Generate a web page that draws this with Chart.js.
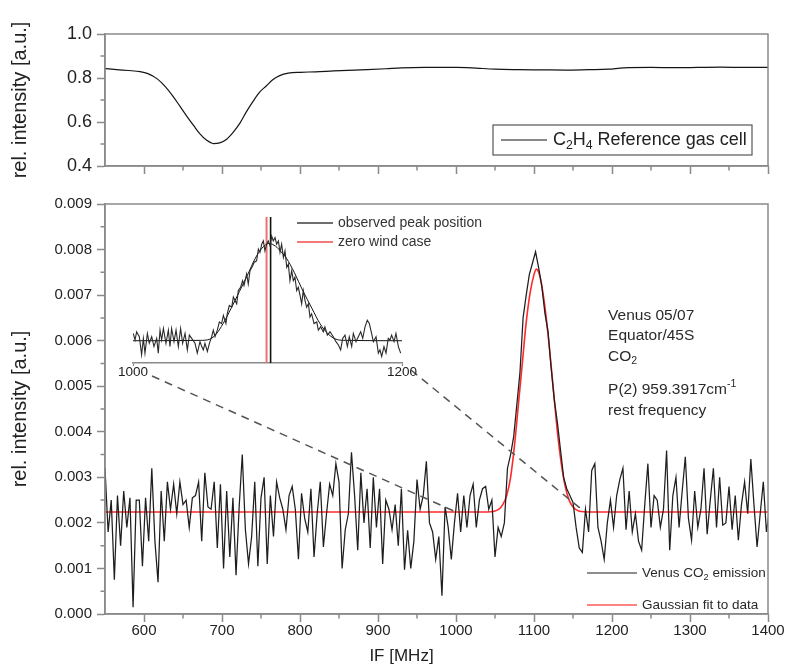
<!DOCTYPE html>
<html><head><meta charset="utf-8">
<script src="https://cdn.jsdelivr.net/npm/chart.js@4.4.1/dist/chart.umd.min.js"></script>
<style>
html,body{margin:0;padding:0;background:#fff;}
#wrap{position:relative;width:792px;height:665px;overflow:hidden;background:#fff;}
canvas{position:absolute;}
</style></head><body>
<div id="wrap">
<canvas id="topChart" width="792" height="190" style="left:0;top:0;width:792px;height:190px"></canvas>
<canvas id="mainChart" width="792" height="475" style="left:0;top:190px;width:792px;height:475px"></canvas>
<canvas id="insetChart" width="420" height="190" style="left:90px;top:200px;width:420px;height:190px"></canvas>
</div>
<script>
// ---------------- DATA ----------------
// Top panel: C2H4 reference gas cell
const refFreq = [550,565,580,595,605,617,627,637,646,655,
  664,672,680,689,697,706,714,723,731,740,
  748,757,765,774,785,800,820,843,870,886,
  910,930,960,1000,1020,1050,1080,1110,1140,1170,
  1195,1215,1250,1280,1310,1340,1370,1400];
const refIntensity = [0.843,0.838,0.834,0.829,0.820,0.796,0.762,0.718,0.672,0.626,
  0.582,0.545,0.518,0.502,0.505,0.522,0.552,0.595,0.645,0.695,
  0.735,0.765,0.792,0.811,0.822,0.826,0.828,0.832,0.836,0.838,
  0.842,0.846,0.848,0.848,0.846,0.840,0.838,0.837,0.836,0.838,
  0.840,0.846,0.848,0.847,0.848,0.849,0.848,0.848];

// Main panel: Venus CO2 emission, sampled every 4 MHz from 550 MHz (values in 1e-3 a.u.)
const venusStartMHz = 550, venusStepMHz = 4;
const venusMilli = [
  3.2,1.8,2.5,0.75,2.6,1.5,2.7,1.9,2.55,0.15,
  2.5,2.5,1.05,2.55,1.6,3.2,1.6,0.7,2.7,1.6,
  2.9,2.3,2.85,2.2,2.9,2.4,2.5,1.9,2.55,2.6,
  2.9,1.6,3.1,2.35,2.3,2.9,1.45,2.85,1.0,2.7,
  1.25,2.55,0.85,2.35,3.5,1.85,1.1,1.7,2.9,1.05,
  2.55,3.0,1.1,2.6,1.7,2.9,2.55,2.3,1.85,2.6,
  2.8,2.3,1.2,2.65,2.1,1.8,2.75,1.25,2.2,2.9,
  1.47,2.2,2.85,2.6,3.3,2.9,1.0,1.85,2.2,3.55,
  2.6,1.4,3.1,2.0,2.75,1.45,3.0,1.9,2.75,1.1,
  2.5,2.3,1.85,2.4,1.5,2.75,0.97,1.84,1.0,1.6,
  2.95,2.3,2.6,3.35,2.0,1.8,1.2,1.7,0.4,2.35,
  1.9,1.2,2.0,2.65,1.8,2.6,1.9,2.6,2.85,1.9,
  2.5,2.75,2.8,2.3,2.5,1.25,1.9,1.7,2.0,3.2,
  3.5,3.9,4.6,5.3,6.5,7.0,7.45,7.7,7.95,7.6,
  7.2,6.6,6.2,5.4,4.7,4.2,3.6,3.0,2.75,2.6,
  2.45,1.9,1.45,1.35,2.3,1.8,3.15,3.3,1.9,1.6,
  1.2,2.0,2.5,1.9,2.6,2.95,3.2,1.85,2.7,1.8,
  2.2,1.6,1.4,2.4,3.3,1.9,2.6,2.5,1.9,2.3,
  3.59,1.4,2.6,3.0,1.9,2.7,3.45,2.1,1.62,2.7,
  1.9,2.3,3.2,1.75,2.5,3.2,1.9,3.0,1.95,2.0,
  2.8,1.85,2.6,1.62,2.4,2.9,2.2,3.4,2.4,1.47,
  2.2,2.9,1.8,2.3];

// Gaussian fit (1e-3 a.u.)
const fitFreq  = [550,1040,1050,1055,1060,1065,1070,1075,1080,1085,1090,1095,1100,1103,1106,1110,1115,1120,1125,1130,1135,1140,1145,1150,1155,1160,1170,1400];
const fitMilli = [2.24,2.24,2.26,2.3,2.4,2.6,3.0,3.7,4.6,5.5,6.4,7.05,7.45,7.57,7.5,7.2,6.6,5.8,4.9,4.0,3.3,2.8,2.5,2.35,2.28,2.25,2.24,2.24];

// Inset (1000-1200 MHz), 1e-3 a.u.
const insetFreq = [1000.2,1001.5,1002.7,1004.7,1006.4,1007.7,1008.9,1010.7,1012.1,1013.9,
  1015.6,1017.6,1018.8,1020.1,1021.3,1022.6,1024.5,1026.3,1027.5,1028.7,
  1030.5,1032.0,1033.7,1035.4,1036.9,1038.7,1040.4,1041.9,1043.6,1046.1,
  1047.8,1049.8,1051.1,1052.3,1053.5,1055.3,1056.8,1058.5,1059.7,1061.0,
  1062.7,1064.2,1065.9,1067.2,1069.1,1070.1,1071.6,1073.4,1074.6,1077.1,
  1078.3,1080.0,1081.5,1082.5,1084.5,1085.7,1087.0,1089.0,1090.0,1091.9,
  1093.2,1094.4,1095.7,1096.9,1098.1,1099.4,1100.6,1101.9,1103.1,1104.3,
  1105.6,1106.8,1108.1,1109.3,1110.5,1111.8,1113.0,1114.3,1115.5,1116.7,
  1118.0,1119.2,1120.4,1121.7,1122.9,1124.2,1125.4,1126.6,1127.9,1129.1,
  1130.4,1131.6,1132.8,1134.6,1136.6,1137.8,1139.5,1141.5,1142.7,1144.5,
  1146.5,1148.9,1150.9,1152.7,1154.4,1155.9,1157.6,1159.4,1160.8,1162.6,
  1163.8,1165.8,1167.5,1169.3,1170.8,1172.5,1174.2,1175.7,1177.4,1178.7,
  1180.7,1182.4,1183.6,1184.9,1186.6,1188.1,1189.8,1191.1,1192.3,1194.1,
  1195.5,1197.3,1199.0];
const insetMilli = [2.62,2.26,2.71,2.44,1.45,2.35,1.54,2.62,2.08,2.44,
  1.90,2.35,1.54,2.80,2.26,2.89,2.08,2.80,1.90,2.89,
  2.17,2.80,1.90,2.89,2.08,2.62,1.72,2.53,2.35,2.08,
  1.54,2.17,1.90,1.72,2.08,1.63,2.08,2.44,2.80,2.44,
  2.80,3.25,3.16,3.61,3.16,3.70,4.15,4.06,4.61,4.24,
  4.97,5.15,5.51,5.24,5.88,5.33,6.06,6.33,6.51,6.60,
  7.24,7.06,7.51,7.69,7.15,7.51,7.69,7.42,7.96,7.69,
  7.87,7.51,7.69,7.06,7.51,6.78,7.15,6.24,6.42,5.51,
  6.06,5.51,5.70,4.97,5.15,4.70,4.24,4.97,4.42,4.06,
  4.24,3.52,3.70,3.16,3.25,2.80,2.98,2.71,2.98,2.53,
  2.71,2.44,2.17,1.99,1.72,2.35,2.53,1.90,2.44,1.90,
  2.62,2.17,2.44,2.71,2.35,2.98,3.34,3.16,2.62,2.17,
  2.44,1.54,1.72,1.36,1.90,1.54,2.35,2.26,2.53,2.17,
  2.62,1.90,1.54];
const insetFitFreq  = [1000,1050,1057,1062,1067,1073,1079,1085,1091,1096,1101,1106,1110,1114,1120,1126,1133,1139,1145,1151,1158,1200];
const insetFitMilli = [2.22,2.24,2.3,2.6,3.16,4.0,4.9,5.8,6.75,7.3,7.55,7.4,7.1,6.75,5.95,5.0,4.0,3.16,2.6,2.3,2.24,2.22];
const observedPeakMHz = 1102.3;
const zeroWindMHz = 1099.3;

// Ticks
const xMajorTicks = [600,700,800,900,1000,1100,1200,1300,1400];
const xMinorTicks = [650,750,850,950,1050,1150,1250,1350];
const topYMajor = [0.4,0.6,0.8,1.0];
const topYMinor = [0.5,0.7,0.9];
const mainYMajor = [0,0.001,0.002,0.003,0.004,0.005,0.006,0.007,0.008,0.009];
const mainYMinor = [0.0005,0.0015,0.0025,0.0035,0.0045,0.0055,0.0065,0.0075,0.0085];
const insetXTicks = [1000,1200];
const connectorMHz = [1000,1165];

// ---------------- STYLE ----------------
const FAMILY = '"Liberation Sans", Arial, Helvetica, sans-serif';
const AXIS = '#8a8a8a';
const TEXT = '#222';
const MAIN_TOP = 190, INSET_LEFT = 90, INSET_TOP = 200;
Chart.defaults.font.family = FAMILY;
Chart.defaults.color = TEXT;

function pts(xs, ys, k) { return xs.map((x, i) => ({x: x, y: ys[i] * (k || 1)})); }

function drawRich(ctx, x, y, parts, size, color, align) {
  ctx.save();
  ctx.fillStyle = color || TEXT;
  ctx.textBaseline = 'middle';
  ctx.textAlign = 'left';
  const fontFor = p => ((p.sub || p.sup) ? size * 0.68 : size) + 'px ' + FAMILY;
  if (align === 'center') {
    let w = 0;
    for (const p of parts) { ctx.font = fontFor(p); w += ctx.measureText(p.t).width; }
    x -= w / 2;
  }
  for (const p of parts) {
    ctx.font = fontFor(p);
    const dy = p.sub ? size * 0.32 : (p.sup ? -size * 0.33 : 0);
    ctx.fillText(p.t, x, y + dy);
    x += ctx.measureText(p.t).width;
  }
  ctx.restore();
}

function framePlugin(xMinor, yMinor) {
  return {
    id: 'frame',
    afterDraw(chart) {
      const {ctx, chartArea: a, scales: {x, y}} = chart;
      ctx.save();
      ctx.strokeStyle = AXIS;
      ctx.lineWidth = 1.5;
      ctx.strokeRect(a.left, a.top, a.right - a.left, a.bottom - a.top);
      ctx.beginPath();
      for (const v of xMinor) { const p = x.getPixelForValue(v); ctx.moveTo(p, a.bottom); ctx.lineTo(p, a.bottom + 4.5); }
      for (const v of yMinor) { const p = y.getPixelForValue(v); ctx.moveTo(a.left, p); ctx.lineTo(a.left - 4.5, p); }
      ctx.stroke();
      ctx.restore();
    }
  };
}

function xScale(opts) {
  return Object.assign({
    type: 'linear', min: 550, max: 1400,
    afterBuildTicks: s => { s.ticks = xMajorTicks.map(v => ({value: v})); },
    grid: {drawOnChartArea: false, tickLength: 8, color: AXIS, tickWidth: 1.5},
    border: {color: AXIS, width: 1.5},
  }, opts);
}

// ---------------- INSET ----------------
const insetChart = new Chart(document.getElementById('insetChart'), {
  type: 'line',
  data: {datasets: [
    {label: 'data', data: pts(insetFreq, insetMilli), borderColor: '#2a2a2a', borderWidth: 1.1, pointRadius: 0, tension: 0},
    {label: 'fit', data: pts(insetFitFreq, insetFitMilli), borderColor: '#111', borderWidth: 1, pointRadius: 0, cubicInterpolationMode: 'monotone'},
    {label: 'zero wind case', legendColor: '#f27a7a', data: [{x: zeroWindMHz, y: 1}, {x: zeroWindMHz, y: 9}], borderColor: '#f07070', borderWidth: 2, pointRadius: 0},
    {label: 'observed peak position', legendColor: '#6e6e6e', data: [{x: observedPeakMHz, y: 1}, {x: observedPeakMHz, y: 9}], borderColor: '#111', borderWidth: 1.6, pointRadius: 0}
  ]},
  options: {
    responsive: false, animation: false,
    layout: {padding: {left: 43, right: 108, top: 17, bottom: 0}},
    plugins: {legend: {display: false}, tooltip: {enabled: false}},
    scales: {
      x: {type: 'linear', min: 1000, max: 1200,
        afterBuildTicks: s => { s.ticks = insetXTicks.map(v => ({value: v})); },
        ticks: {font: {size: 13.5}, color: TEXT, padding: -2, maxRotation: 0, callback: v => String(v)},
        grid: {drawOnChartArea: false, tickLength: 3, color: AXIS, tickWidth: 1.2},
        border: {color: AXIS, width: 1.5},
        afterFit: s => { s.height = 27; }},
      y: {display: false, min: 1, max: 9}
    }
  },
  plugins: [{
    id: 'insetLegend',
    afterDraw(chart) {
      const {ctx, chartArea: a} = chart;
      const rows = [chart.data.datasets[3], chart.data.datasets[2]];
      rows.forEach((ds, i) => {
        const y = a.top + 6 + i * 19;
        ctx.save();
        ctx.strokeStyle = ds.legendColor; ctx.lineWidth = 2;
        ctx.beginPath(); ctx.moveTo(a.left + 164, y); ctx.lineTo(a.left + 200, y); ctx.stroke();
        ctx.restore();
        drawRich(ctx, a.left + 205, y, [{t: ds.label}], 14, '#333');
      });
    }
  }]
});

// ---------------- TOP ----------------
new Chart(document.getElementById('topChart'), {
  type: 'line',
  data: {datasets: [{label: 'Reference gas cell', data: pts(refFreq, refIntensity), borderColor: '#151515', borderWidth: 1.2, pointRadius: 0, cubicInterpolationMode: 'monotone'}]},
  options: {
    responsive: false, animation: false,
    layout: {padding: {left: 0, right: 24, top: 34, bottom: 0}},
    plugins: {legend: {display: false}, tooltip: {enabled: false}},
    scales: {
      x: xScale({ticks: {display: false}, afterFit: s => { s.height = 24; }}),
      y: {min: 0.4, max: 1.0,
        afterBuildTicks: s => { s.ticks = topYMajor.map(v => ({value: v})); },
        ticks: {font: {size: 18}, color: TEXT, padding: 5, callback: v => v.toFixed(1)},
        grid: {drawOnChartArea: false, tickLength: 8, color: AXIS, tickWidth: 1.5},
        border: {color: AXIS, width: 1.5},
        title: {display: true, text: 'rel. intensity [a.u.]', font: {size: 20}, color: TEXT, padding: {top: 8, bottom: 0}},
        afterFit: s => { s.width = 105; }}
    }
  },
  plugins: [framePlugin(xMinorTicks, topYMinor), {
    id: 'topLegend',
    afterDraw(chart) {
      const {ctx, chartArea: a} = chart;
      const ds = chart.data.datasets[0];
      const L = a.right - 275, T = a.top + 91, R = a.right - 16, B = a.top + 121;
      ctx.save();
      ctx.strokeStyle = '#555'; ctx.lineWidth = 1.2;
      ctx.strokeRect(L, T, R - L, B - T);
      ctx.strokeStyle = ds.borderColor; ctx.lineWidth = 1.2;
      ctx.beginPath(); ctx.moveTo(L + 8, (T + B) / 2); ctx.lineTo(L + 54, (T + B) / 2); ctx.stroke();
      ctx.restore();
      drawRich(ctx, L + 60, (T + B) / 2, [{t: 'C'}, {t: '2', sub: true}, {t: 'H'}, {t: '4', sub: true}, {t: ' ' + ds.label}], 18);
    }
  }]
});

// ---------------- MAIN ----------------
const venusPts = venusMilli.map((v, i) => ({x: venusStartMHz + venusStepMHz * i, y: v / 1000}));
new Chart(document.getElementById('mainChart'), {
  type: 'line',
  data: {datasets: [
    {label: 'emission', data: venusPts, borderColor: '#1e1e1e', borderWidth: 1.25, pointRadius: 0, tension: 0},
    {label: 'Gaussian fit to data', legendColor: '#ff5a5a', data: pts(fitFreq, fitMilli, 0.001), borderColor: '#ff2a2a', borderWidth: 1.6, pointRadius: 0, cubicInterpolationMode: 'monotone'}
  ]},
  options: {
    responsive: false, animation: false,
    layout: {padding: {left: 0, right: 24, top: 13, bottom: 0}},
    plugins: {legend: {display: false}, tooltip: {enabled: false}},
    scales: {
      x: xScale({
        ticks: {font: {size: 15}, color: TEXT, padding: 0, maxRotation: 0, callback: v => String(v)},
        afterFit: s => { s.height = 51; }}),
      y: {min: 0, max: 0.009,
        afterBuildTicks: s => { s.ticks = mainYMajor.map(v => ({value: v})); },
        ticks: {font: {size: 15}, color: TEXT, padding: 5, callback: v => v.toFixed(3)},
        grid: {drawOnChartArea: false, tickLength: 8, color: AXIS, tickWidth: 1.5},
        border: {color: AXIS, width: 1.5},
        title: {display: true, text: 'rel. intensity [a.u.]', font: {size: 20}, color: TEXT, padding: {top: 8, bottom: 0}},
        afterFit: s => { s.width = 105; }}
    }
  },
  plugins: [framePlugin(xMinorTicks, mainYMinor), {
    id: 'mainDecor',
    afterDraw(chart) {
      const {ctx, chartArea: a, scales: {x, y}} = chart;
      // x-axis title (sits slightly left of centre in the original)
      drawRich(ctx, (a.left + a.right) / 2 - 35, chart.height - 9, [{t: 'IF [MHz]'}], 17, TEXT, 'center');
      // annotation text block
      const ax = x.getPixelForValue(1195), ay = y.getPixelForValue(0.00655);
      const lines = [
        [[{t: 'Venus 05/07'}], 0],
        [[{t: 'Equator/45S'}], 20],
        [[{t: 'CO'}, {t: '2', sub: true}], 41],
        [[{t: 'P(2) 959.3917cm'}, {t: '-1', sup: true}], 74],
        [[{t: 'rest frequency'}], 95]
      ];
      for (const [parts, dy] of lines) drawRich(ctx, ax, ay + dy, parts, 15.5, '#2a2a2a');
      // legend
      const rows = [
        {color: chart.data.datasets[0].borderColor, w: 1.2, parts: [{t: 'Venus CO'}, {t: '2', sub: true}, {t: ' emission'}], y: a.bottom - 41},
        {color: chart.data.datasets[1].legendColor, w: 1.6, parts: [{t: chart.data.datasets[1].label}], y: a.bottom - 9}
      ];
      for (const r of rows) {
        ctx.save(); ctx.strokeStyle = r.color; ctx.lineWidth = r.w;
        ctx.beginPath(); ctx.moveTo(a.right - 181, r.y); ctx.lineTo(a.right - 131, r.y); ctx.stroke(); ctx.restore();
        drawRich(ctx, a.right - 126, r.y, r.parts, 13.5, '#2a2a2a');
      }
      // dashed connectors from inset axis to the main plot
      const ix = insetChart.scales.x;
      const base = y.getPixelForValue(fitMilli[0] / 1000);
      const starts = [
        {x: INSET_LEFT + ix.getPixelForValue(insetXTicks[0]) + 19, y: INSET_TOP + ix.top + 13 - MAIN_TOP},
        {x: INSET_LEFT + ix.getPixelForValue(insetXTicks[1]) + 9, y: INSET_TOP + ix.top + 7 - MAIN_TOP}
      ];
      ctx.save();
      ctx.strokeStyle = '#555'; ctx.lineWidth = 1.5; ctx.setLineDash([8, 6]);
      starts.forEach((s, i) => {
        ctx.beginPath(); ctx.moveTo(s.x, s.y); ctx.lineTo(x.getPixelForValue(connectorMHz[i]), base); ctx.stroke();
      });
      ctx.restore();
    }
  }]
});
</script>
</body></html>
